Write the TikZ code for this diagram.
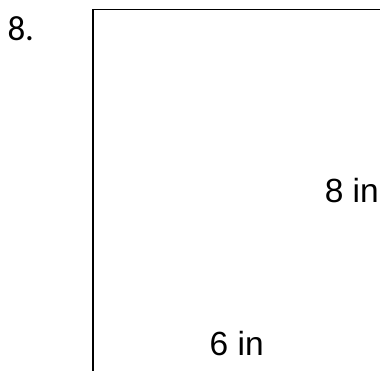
\documentclass[tikz,border=0pt]{standalone}
\usepackage{fontspec}
\setmainfont{Liberation Sans}
\newfontfamily\numfont{Carlito}
\usepackage{tikz}

\begin{document}
\begin{tikzpicture}[x=1pt, y=-1pt,
    lbl/.style={inner sep=0pt, anchor=base west, font=\fontsize{33.5}{40}\selectfont}]
      \useasboundingbox (0, 0) rectangle (380, 371);
      \node[lbl, font=\numfont\fontsize{35}{42}\selectfont] (num) at (7.3, 41) {8.};
      \draw[line width=1.7pt]
            ( 92.7, 371) --
            ( 92.7, 9.5) --
            ( 380, 9.5);
      \node[lbl] (height) at (324.6, 203) {8 in};
      \node[lbl] (width) at (209.5, 355) {6 in};
    \end{tikzpicture}
\end{document}
